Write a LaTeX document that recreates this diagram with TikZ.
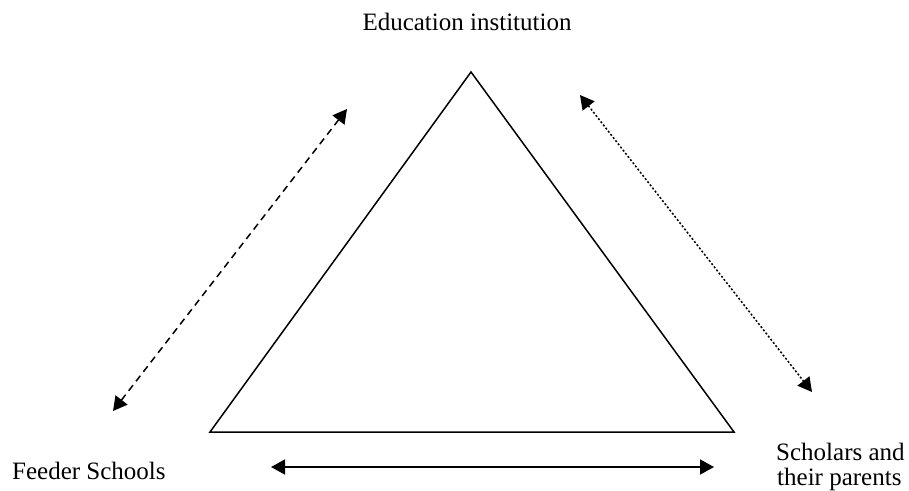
\documentclass[tikz,border=0pt]{standalone}
\usepackage{fontspec}
\setmainfont{Liberation Serif}
\usetikzlibrary{arrows.meta}
\begin{document}
\begin{tikzpicture}[x=1pt,y=-1pt,
  lbl/.style={inner sep=0pt,font=\fontsize{25}{27}\selectfont},
  tri/.style={draw=black,line width=1.5pt,line join=miter},
  link/.style={line width=1.5pt,{Triangle[length=14pt,width=15pt]}-{Triangle[length=14pt,width=15pt]}},
  dashlink/.style={link,dash pattern=on 7pt off 5pt},
  dotlink/.style={link,dash pattern=on 2pt off 2pt}]
\useasboundingbox (0,0) rectangle (909,490);
% triangle
\coordinate (top) at (471,72);
\coordinate (bl) at (210,432);
\coordinate (br) at (734,432);
\draw[tri] (top) -- (bl) -- (br) -- cycle;
% labels
\node[lbl,anchor=base] (edu) at (467,30) {Education institution};
\node[lbl,anchor=base west] (feeder) at (12,479) {Feeder Schools};
\node[lbl,anchor=base west] (schol1) at (776,460) {Scholars and};
\node[lbl,anchor=base west] (schol2) at (777,485) {their parents};
% arrow ends
\coordinate (a1) at (113,411);
\coordinate (a2) at (347,109);
\coordinate (b1) at (580,95);
\coordinate (b2) at (812,392);
\coordinate (c1) at (271,467);
\coordinate (c2) at (714,467);
\draw[dashlink] (a1) -- (a2);
\draw[dotlink] (b1) -- (b2);
\draw[link] (c1) -- (c2);
\end{tikzpicture}
\end{document}
